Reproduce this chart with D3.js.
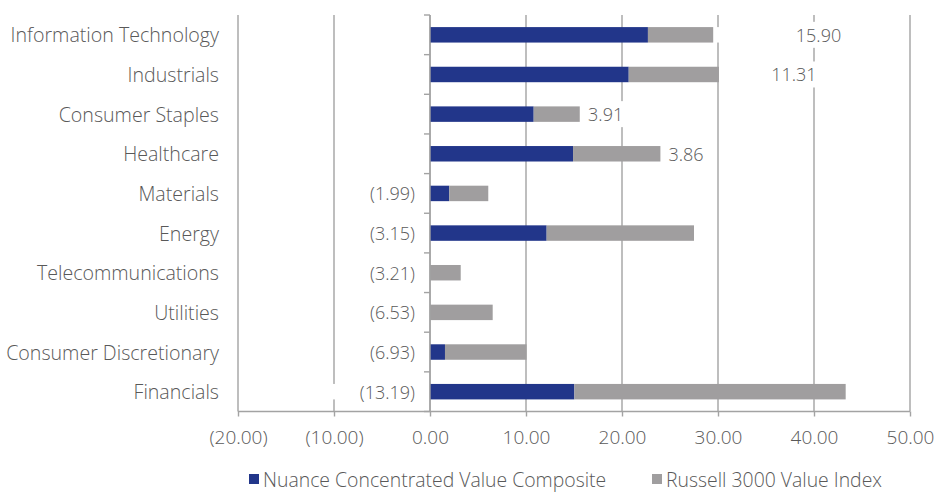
<!DOCTYPE html>
<html>
<head>
<meta charset="utf-8">
<script src="https://cdn.jsdelivr.net/npm/d3@7"></script>
<style>
  html, body { margin: 0; padding: 0; background: #fff; }
  svg { display: block; font-family: "Open Sans", "Noto Sans", sans-serif; font-weight: 300; }
</style>
</head>
<body>
<svg id="chart" width="934" height="492"></svg>
<script>
// ---- data ----
const categories = ["Information Technology", "Industrials", "Consumer Staples", "Healthcare", "Materials",
  "Energy", "Telecommunications", "Utilities", "Consumer Discretionary", "Financials"];
const nuanceValues = [22.7, 20.7, 10.8, 14.9, 2.0, 12.15, 0, 0, 1.56, 15.04];
const russellValues = [6.8, 9.4, 4.8, 9.1, 4.07, 15.35, 3.2, 6.53, 8.5, 28.26];
const differenceValues = [15.90, 11.31, 3.91, 3.86, -1.99, -3.15, -3.21, -6.53, -6.93, -13.19];
const xTickValues = [-20, -10, 0, 10, 20, 30, 40, 50];
const seriesNames = ["Nuance Concentrated Value Composite", "Russell 3000 Value Index"];

// ---- styles ----
const colNuance = "#22368a";
const colRussell = "#a09e9f";
const gridCol = "#a3a3a3";
const textCol = "#595959";

const svg = d3.select("#chart");
const x = d3.scaleLinear().domain([-20, 50]).range([238, 910]);
const y = d3.scaleBand().domain(categories).range([15, 411.5]).paddingInner(0.61).paddingOuter(0.305);

const fmt = v => v < 0 ? "(" + d3.format(".2f")(-v) + ")" : d3.format(".2f")(v);

const rows = categories.map((c, i) => ({
  cat: c, nuance: nuanceValues[i], russell: russellValues[i], diff: differenceValues[i],
  total: nuanceValues[i] + russellValues[i]
}));

// gridlines
svg.append("g").selectAll("line").data(xTickValues).join("line")
  .attr("x1", d => x(d)).attr("x2", d => x(d))
  .attr("y1", y.range()[0]).attr("y2", y.range()[1])
  .attr("stroke", gridCol).attr("stroke-width", 1.4);

// white masks behind difference labels (hidden series)
const maskG = svg.append("g");
rows.forEach(r => {
  const yc = y(r.cat);
  if (r.diff >= 0) {
    maskG.append("rect").attr("x", x(r.total)).attr("width", x(r.total + r.diff) - x(r.total))
      .attr("y", yc).attr("height", y.bandwidth()).attr("fill", "#fff");
  } else {
    maskG.append("rect").attr("x", x(r.diff)).attr("width", x(0) - 1 - x(r.diff))
      .attr("y", yc).attr("height", y.bandwidth()).attr("fill", "#fff");
  }
});

// bars
const barG = svg.append("g");
barG.selectAll("rect.n").data(rows).join("rect").attr("class", "n")
  .attr("x", x(0)).attr("y", d => y(d.cat))
  .attr("width", d => x(d.nuance) - x(0)).attr("height", y.bandwidth())
  .attr("fill", colNuance);
barG.selectAll("rect.r").data(rows).join("rect").attr("class", "r")
  .attr("x", d => x(d.nuance)).attr("y", d => y(d.cat))
  .attr("width", d => x(d.total) - x(d.nuance)).attr("height", y.bandwidth())
  .attr("fill", colRussell);

// vertical category axis at 0
const step = y.step();
svg.append("line").attr("x1", x(0)).attr("x2", x(0))
  .attr("y1", y.range()[0]).attr("y2", y.range()[1]).attr("stroke", gridCol).attr("stroke-width", 1.4);
const bounds = d3.range(categories.length + 1).map(i => y.range()[0] + i * step);
svg.append("g").selectAll("line").data(bounds).join("line")
  .attr("x1", x(0) - 6).attr("x2", x(0)).attr("y1", d => d).attr("y2", d => d)
  .attr("stroke", gridCol).attr("stroke-width", 1.4);

// x axis
const xAxis = d3.axisBottom(x).tickValues(xTickValues).tickFormat(fmt).tickSize(5).tickPadding(14);
const ax = svg.append("g").attr("transform", `translate(0,${y.range()[1]})`).call(xAxis);
ax.select(".domain").attr("stroke", gridCol).attr("stroke-width", 1.4).attr("d", `M${x(-20)},0H${x(50)}`);
ax.selectAll(".tick line").attr("stroke", gridCol).attr("stroke-width", 1.4);
ax.selectAll(".tick text").attr("fill", textCol).style("font-size", "19px")
  .style("font-family", "'Open Sans', sans-serif").style("font-weight", 300);

// category labels
svg.append("g").selectAll("text").data(rows).join("text")
  .attr("x", x(-20) - 19).attr("y", d => y(d.cat) + y.bandwidth() / 2)
  .attr("text-anchor", "end").attr("dominant-baseline", "central")
  .attr("fill", textCol).style("font-size", "19.6px").text(d => d.cat);

// difference labels
const labG = svg.append("g");
rows.forEach(r => {
  const yc = y(r.cat) + y.bandwidth() / 2;
  const t = labG.append("text").attr("dominant-baseline", "central")
    .attr("fill", textCol).style("font-size", "18px").text(fmt(r.diff));
  if (r.diff >= 0) {
    t.attr("x", x(r.total + 0.69 * r.diff)).attr("y", yc).attr("text-anchor", "middle");
  } else {
    t.attr("x", x(0) - 15).attr("y", yc).attr("text-anchor", "end");
  }
  const bb = t.node().getBBox();
  labG.insert("rect", "text").attr("x", bb.x - 4).attr("y", yc - 13)
    .attr("width", bb.width + 8).attr("height", 26).attr("fill", "#fff");
});

// legend
const legend = svg.append("g");
const legItems = [{ name: seriesNames[0], col: colNuance, x: 249 }, { name: seriesNames[1], col: colRussell, x: 652 }];
legItems.forEach(it => {
  legend.append("rect").attr("x", it.x).attr("y", 474).attr("width", 10).attr("height", 10).attr("fill", it.col);
  legend.append("text").attr("x", it.x + 14).attr("y", 487)
    .attr("fill", textCol).style("font-size", "19.4px").text(it.name);
});
</script>
</body>
</html>
